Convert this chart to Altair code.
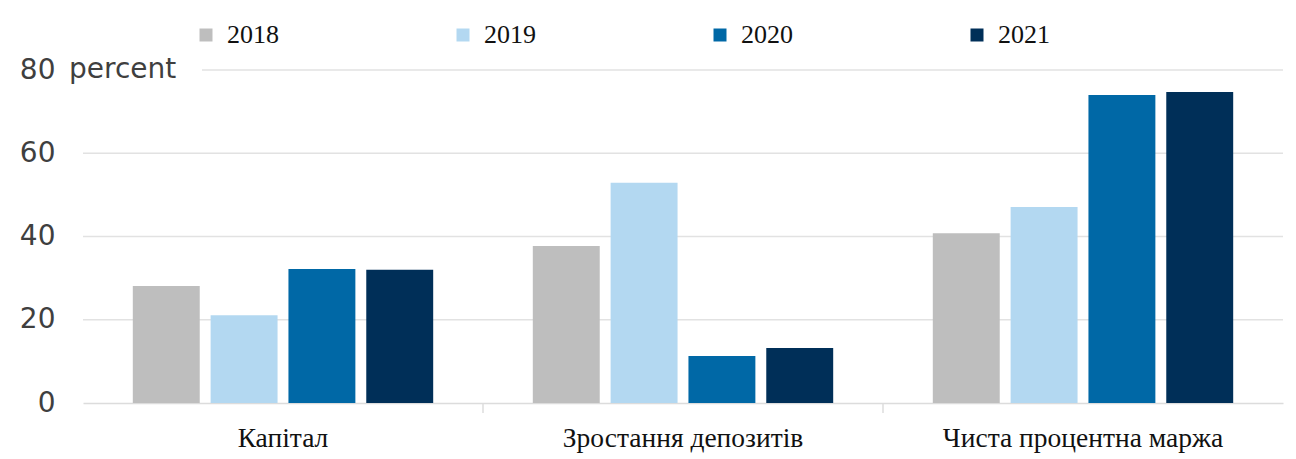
import altair as alt
import pandas as pd

categories = ["Капітал", "Зростання депозитів", "Чиста процентна маржа"]
years = ["2018", "2019", "2020", "2021"]
values = {
    "2018": [28.1, 37.7, 40.8],
    "2019": [21.1, 52.9, 47.1],
    "2020": [32.2, 11.3, 74.0],
    "2021": [32.0, 13.2, 74.7],
}
colors = ["#bebebe", "#b3d8f1", "#0068a6", "#002f58"]
grid_values = [20, 40, 60]
top_grid = [80]

rows = []
for y in years:
    for c, v in zip(categories, values[y]):
        rows.append({"category": c, "year": y, "value": v})
df = pd.DataFrame(rows)

W, H = 1200, 333

xscale = alt.Scale(domain=categories, paddingInner=0, paddingOuter=0)
yscale = alt.Scale(domain=[0, 80], nice=False)

bars = alt.Chart(df).mark_bar().encode(
    x=alt.X("category:N", scale=xscale, sort=categories,
            axis=alt.Axis(title=None, labelAngle=0, ticks=False, domain=True,
                          domainColor="#dcdcdc", domainWidth=1.5,
                          labelFont="Liberation Serif", labelFontSize=27.5,
                          labelColor="#111111", labelPadding=21, labelLimit=0)),
    xOffset=alt.XOffset("year:N", sort=years,
                        scale=alt.Scale(paddingInner=0.14, paddingOuter=0.64)),
    y=alt.Y("value:Q", scale=yscale,
            axis=alt.Axis(title=None, values=[0, 20, 40, 60, 80], grid=False,
                          domain=False, ticks=False, labelFont="DejaVu Sans",
                          labelFontSize=28, labelColor="#3f3f3f",
                          labelPadding=28)),
    color=alt.Color("year:N", sort=years,
                    scale=alt.Scale(domain=years, range=colors),
                    legend=alt.Legend(title=None, orient="none", legendX=110,
                                      legendY=-48, direction="horizontal",
                                      columns=4, columnPadding=171,
                                      symbolType="square", symbolSize=169,
                                      symbolStrokeWidth=0, labelOffset=8,
                                      labelFont="Liberation Serif",
                                      labelFontSize=26, labelColor="#111111",
                                      padding=0)),
)

grid = alt.Chart(pd.DataFrame({"v": grid_values})).mark_rule(
    color="#e2e2e2", strokeWidth=1.5).encode(
    y=alt.Y("v:Q", scale=yscale),
    x=alt.value(0), x2=alt.value(W),
)
grid_top = alt.Chart(pd.DataFrame({"v": top_grid})).mark_rule(
    color="#e2e2e2", strokeWidth=1.5).encode(
    y=alt.Y("v:Q", scale=yscale),
    x=alt.value(119), x2=alt.value(W),
)
ticks = alt.Chart(pd.DataFrame({"category": categories[1:]})).mark_rule(
    color="#dcdcdc", strokeWidth=1.5).encode(
    x=alt.X("category:N", scale=xscale, sort=categories, bandPosition=0),
    y=alt.value(H), y2=alt.value(H + 10),
)
pct = alt.Chart(pd.DataFrame({"t": ["percent"], "v": [80]})).mark_text(
    align="left", baseline="middle", font="DejaVu Sans", fontSize=28,
    color="#3f3f3f").encode(
    y=alt.Y("v:Q", scale=yscale),
    x=alt.value(-14),
    text="t:N",
)

chart = alt.layer(grid, grid_top, bars, ticks, pct).properties(
    width=W, height=H,
    background="white",
    autosize=alt.AutoSizeParams(type="none"),
    padding={"left": 83, "top": 70, "right": 13, "bottom": 56},
).configure_view(stroke=None)

chart.save("out.html", embed_options={"renderer": "svg", "actions": False})
